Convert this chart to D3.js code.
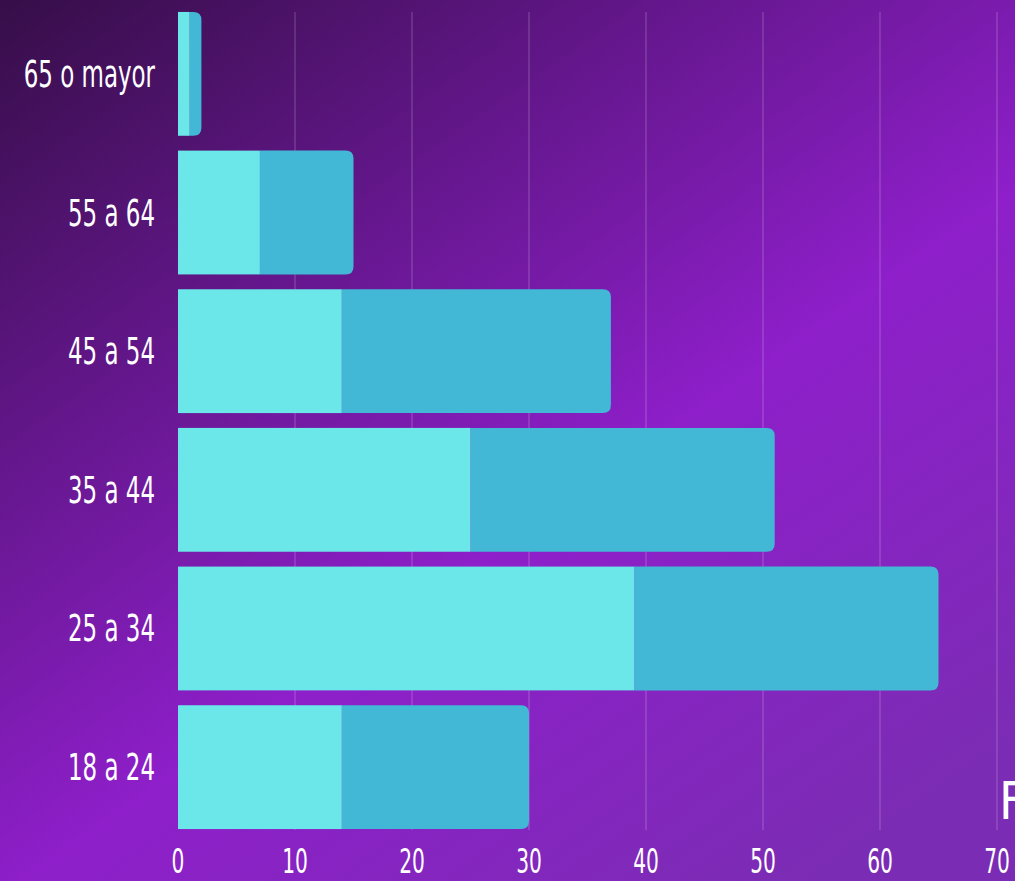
<!DOCTYPE html>
<html>
<head>
<meta charset="utf-8">
<script src="https://cdn.jsdelivr.net/npm/d3@7"></script>
<style>
  html, body { margin: 0; padding: 0; overflow: hidden; }
  svg { display: block; }
  .lbl { font-family: "Liberation Sans Narrow", "DejaVu Sans Condensed", "Roboto", sans-serif; fill: #fff; }
</style>
</head>
<body>
<svg id="chart"></svg>
<script>
var width = 1015, height = 881;

// data, bottom to top as drawn
var categories = ['18 a 24', '25 a 34', '35 a 44', '45 a 54', '55 a 64', '65 o mayor'];
var seriesA = [14, 39, 25, 14, 7, 1];
var seriesB = [16, 26, 26, 23, 8, 1];
var xTicks = [0, 10, 20, 30, 40, 50, 60, 70];
var colors = ['#6be6e9', '#42b7d6'];

var svg = d3.select('#chart').attr('width', width).attr('height', height);

var defs = svg.append('defs');
var grad = defs.append('linearGradient')
  .attr('id', 'bg').attr('x1', 0).attr('y1', 0).attr('x2', 0.8).attr('y2', 1);
grad.append('stop').attr('offset', 0).attr('stop-color', '#360e48');
grad.append('stop').attr('offset', 0.62).attr('stop-color', '#8e1fca');
grad.append('stop').attr('offset', 1).attr('stop-color', '#7b2cb4');

svg.append('rect').attr('width', width).attr('height', height).attr('fill', 'url(#bg)');

var x = d3.scaleLinear().domain([0, 70]).range([178, 997]);
var y = d3.scaleBand()
  .domain(categories.slice().reverse())
  .range([4.6, 836.4])
  .paddingInner(0.107)
  .paddingOuter(0.053);

// grid
svg.append('g').selectAll('line')
  .data(xTicks.slice(1))
  .enter().append('line')
    .attr('x1', function(d){ return x(d); })
    .attr('x2', function(d){ return x(d); })
    .attr('y1', 12).attr('y2', 830)
    .attr('stroke', 'rgba(255,255,255,0.25)')
    .attr('stroke-width', 1);

// the cut legend title on the right edge
svg.append('text').attr('class', 'lbl')
  .attr('x', 999).attr('y', 819)
  .attr('font-size', 52).attr('fill', '#f2f2f2')
  .style('font-weight', 300)
  .text('F');

var rows = categories.map(function(c, i){
  return {cat: c, a: seriesA[i], b: seriesB[i]};
});

function rightRounded(x0, y0, w, h, r){
  r = Math.min(r, w, h / 2);
  return 'M' + x0 + ',' + y0 +
    'H' + (x0 + w - r) +
    'Q' + (x0 + w) + ',' + y0 + ' ' + (x0 + w) + ',' + (y0 + r) +
    'V' + (y0 + h - r) +
    'Q' + (x0 + w) + ',' + (y0 + h) + ' ' + (x0 + w - r) + ',' + (y0 + h) +
    'H' + x0 + 'Z';
}

var bars = svg.append('g').selectAll('g')
  .data(rows)
  .enter().append('g');

bars.append('path')
  .attr('d', function(d){
    return rightRounded(x(d.a), y(d.cat), x(d.a + d.b) - x(d.a), y.bandwidth(), 8);
  })
  .attr('fill', colors[1]);

bars.append('rect')
  .attr('x', x(0))
  .attr('y', function(d){ return y(d.cat); })
  .attr('width', function(d){ return x(d.a) - x(0); })
  .attr('height', y.bandwidth())
  .attr('fill', colors[0]);

// category labels
svg.append('g').selectAll('text')
  .data(categories)
  .enter().append('text')
    .attr('class', 'lbl')
    .attr('font-size', 37)
    .attr('text-anchor', 'end')
    .attr('transform', function(d){
      return 'translate(155,' + (y(d) + y.bandwidth() / 2 + 13) + ') scale(0.69,1)';
    })
    .text(function(d){ return d; });

// x tick labels
svg.append('g').selectAll('text')
  .data(xTicks)
  .enter().append('text')
    .attr('class', 'lbl')
    .attr('font-size', 34)
    .attr('text-anchor', 'middle')
    .attr('transform', function(d){
      return 'translate(' + x(d) + ',873) scale(0.66,1)';
    })
    .text(function(d){ return d; });
</script>
</body>
</html>
